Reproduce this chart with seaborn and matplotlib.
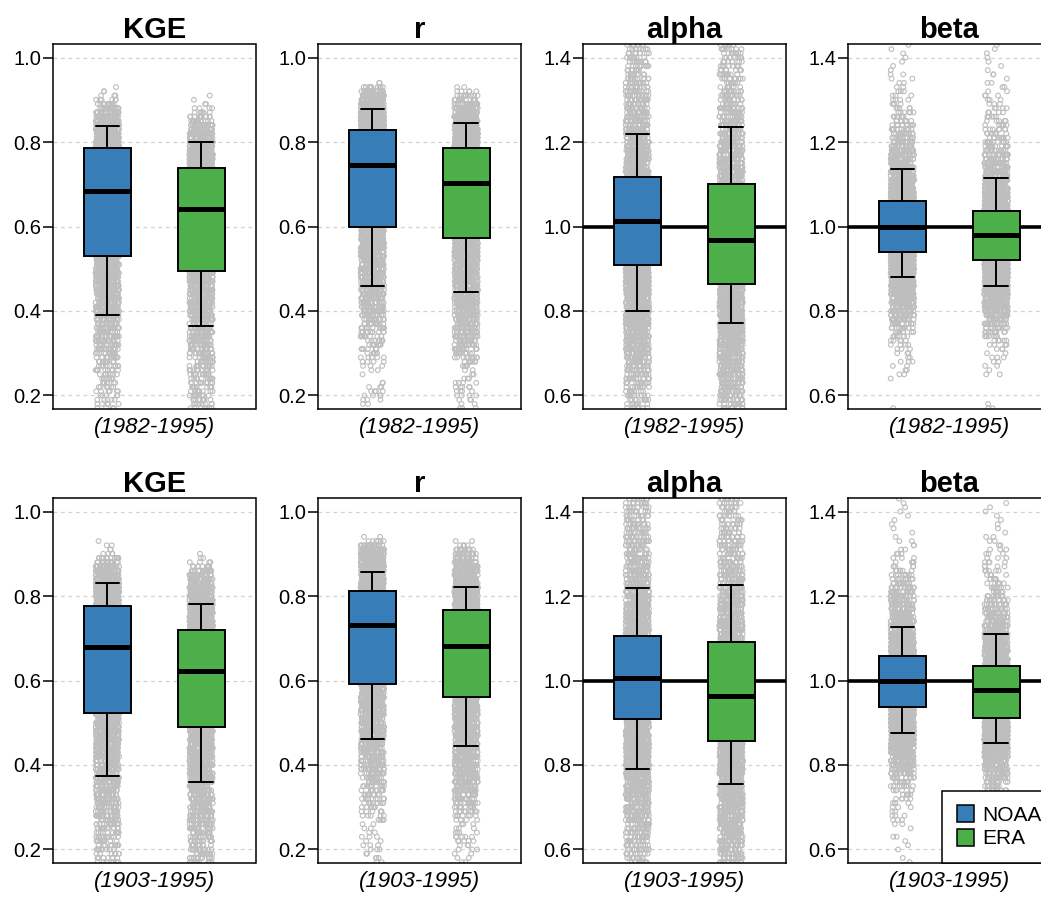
import numpy as np
import pandas as pd
import matplotlib
matplotlib.use("Agg")
import matplotlib.pyplot as plt
from matplotlib.patches import Patch
from matplotlib.ticker import FormatStrFormatter
import seaborn as sns

# ---------------- data ----------------
sources = ["NOAA", "ERA"]
metrics = ["KGE", "r", "alpha", "beta"]
periods = ["(1982-1995)", "(1903-1995)"]
box_colors = ["#377EB8", "#4DAF4A"]
point_gray = "#BEBEBE"

# five-number summaries: [lower whisker, Q1, median, Q3, upper whisker]
kge_noaa_1982_box = [0.391, 0.531, 0.684, 0.786, 0.838]
kge_era_1982_box = [0.364, 0.494, 0.642, 0.738, 0.799]
r_noaa_1982_box = [0.458, 0.600, 0.746, 0.828, 0.877]
r_era_1982_box = [0.444, 0.572, 0.702, 0.786, 0.846]
alpha_noaa_1982_box = [0.799, 0.908, 1.013, 1.116, 1.218]
alpha_era_1982_box = [0.771, 0.864, 0.968, 1.101, 1.236]
beta_noaa_1982_box = [0.881, 0.939, 0.999, 1.061, 1.135]
beta_era_1982_box = [0.860, 0.921, 0.980, 1.037, 1.115]

kge_noaa_1903_box = [0.375, 0.524, 0.679, 0.777, 0.830]
kge_era_1903_box = [0.359, 0.490, 0.622, 0.719, 0.781]
r_noaa_1903_box = [0.461, 0.591, 0.732, 0.812, 0.857]
r_era_1903_box = [0.446, 0.560, 0.681, 0.768, 0.822]
alpha_noaa_1903_box = [0.791, 0.908, 1.006, 1.105, 1.218]
alpha_era_1903_box = [0.756, 0.857, 0.964, 1.091, 1.225]
beta_noaa_1903_box = [0.876, 0.938, 0.999, 1.059, 1.127]
beta_era_1903_box = [0.851, 0.912, 0.977, 1.034, 1.110]

# point clouds: number of catchments in each 0.01-wide bin, first bin value given
kge_noaa_1982_start = 0.17
kge_noaa_1982_counts = [4, 5, 5, 5, 6, 6, 7, 8, 8, 9,
                        10, 11, 12, 13, 15, 16, 18, 19, 21, 23, 24, 26,
                        28, 30, 31, 32, 34, 35, 37, 38, 40, 40, 42, 43, 45, 45, 47,
                        48, 50, 50, 52, 53, 55, 57, 58, 60, 62, 63, 65, 67, 70, 72,
                        75, 77, 80, 82, 85, 87, 88, 90, 90, 90,
                        88, 83, 75, 65, 55,
                        48, 40, 32, 24, 17, 11, 6, 3, 2, 1]
kge_era_1982_start = 0.17
kge_era_1982_counts = [8, 8, 9, 9, 10, 10, 11, 12, 12, 13,
                       14, 15, 16, 17, 18, 19, 20, 21, 22, 24,
                       25, 26, 28, 29, 30, 32, 33, 35, 36, 38, 39, 41, 42,
                       44, 45, 47, 48, 50, 52, 53, 55, 57, 58, 60, 62, 64, 65, 66,
                       68, 70, 72, 74, 76, 78, 80, 82, 83,
                       82, 80, 75, 70, 62, 55,
                       48, 40, 33, 27, 21, 15, 10, 6, 4, 2, 1, 1]
r_noaa_1982_start = 0.18
r_noaa_1982_counts = [2, 3, 4, 4, 3, 2, 0, 1,
                      2, 3, 4, 5, 6, 7, 8, 9, 10, 12,
                      13, 14, 16, 18, 20, 22, 24, 26, 28, 30,
                      32, 33, 35, 36, 37, 38, 40, 41, 42, 43, 45, 46, 47, 48, 50,
                      52, 55, 57, 60, 62, 65, 67, 70, 72, 75, 77, 80, 82, 85,
                      87, 90, 92, 94, 95, 95, 95, 93,
                      90, 85, 78, 70, 62,
                      60, 55, 50, 40, 25, 10, 2]
r_era_1982_start = 0.17
r_era_1982_counts = [3, 2, 3, 4, 4, 5, 4, 3, 2, 2,
                     5, 7, 9, 11, 13, 15, 17, 19, 21, 23,
                     24, 26, 28, 29, 31, 32, 34, 35,
                     36, 37, 38, 40, 41, 42, 44, 45, 46, 47, 49, 50, 52,
                     54, 56, 58, 61, 63, 66, 68, 70, 72, 74, 76, 78, 80,
                     82, 84, 86, 87, 88, 89, 89, 88,
                     85, 81, 76, 71, 66, 61,
                     56, 50, 43, 35, 26, 18, 10, 5, 2]
alpha_noaa_1982_start = 0.57
alpha_noaa_1982_counts = [8, 8, 10, 10, 10, 12, 12, 15, 15, 18,
                          18, 20, 20, 22, 25, 25, 28, 30, 32, 35, 38, 40, 42,
                          45, 48, 50, 52, 55, 58, 60, 62, 65, 68, 70,
                          72, 75, 78, 78, 80, 80, 80, 80, 80, 78, 78,
                          75, 72, 70, 68, 65, 62, 60, 58, 55, 52,
                          50, 48, 45, 42, 40, 38, 35, 32, 30, 28, 25,
                          25, 22, 22, 20, 20, 18, 18, 15, 15, 15, 12, 12, 12, 10, 10,
                          10, 10, 8, 8, 8, 8]
alpha_era_1982_start = 0.57
alpha_era_1982_counts = [12, 12, 15, 15, 18, 18, 20, 20, 22, 22,
                         25, 28, 30, 32, 35, 38, 40, 42, 45, 48, 50,
                         52, 55, 58, 60, 62, 65, 68, 68, 70,
                         70, 72, 72, 72, 72, 72, 72, 70, 70, 68, 68,
                         65, 62, 60, 58, 55, 52, 50, 48, 45, 42, 40, 38, 35,
                         32, 32, 30, 30, 28, 28, 25, 25, 22, 22, 20, 20, 18, 18,
                         18, 15, 15, 15, 12, 12, 12, 12, 10, 10, 10, 10, 8, 8, 8, 8,
                         8, 8, 8]
beta_noaa_1982_start = 0.57
beta_noaa_1982_counts = [1, 0, 0, 0, 0, 0, 0, 1, 2, 2,
                         2, 3, 2, 3, 3, 4, 5, 6, 8, 10,
                         14, 18, 22, 26, 30, 36, 42, 48, 56, 64, 72,
                         80, 88, 96, 104, 110, 116, 120, 124, 126, 128, 128, 128,
                         126, 124, 120, 116, 110, 104, 96,
                         88, 80, 72, 64, 56, 50, 44,
                         38, 34, 30, 26, 24, 20, 18, 16, 14, 12, 10, 8, 8, 6,
                         5, 4, 4, 3, 3, 2, 2, 2, 2, 1, 1, 1, 1, 1, 1, 1]
beta_era_1982_start = 0.57
beta_era_1982_counts = [2, 1, 0, 0, 0, 0, 0, 0, 2, 1,
                        2, 2, 3, 2, 3, 4, 5, 7, 9, 12,
                        16, 20, 26, 32, 38, 46, 54, 62, 72, 82,
                        90, 98, 106, 112, 118, 122, 126, 128, 128, 128, 126,
                        124, 120, 114, 108, 102, 94, 86,
                        78, 70, 62, 55, 48, 42, 37, 33,
                        29, 25, 22, 19, 17, 15, 13, 11, 9, 8, 7, 6, 5, 5,
                        4, 4, 3, 3, 3, 2, 2, 2, 1, 2, 1, 1, 1, 1, 1, 1, 1]

kge_noaa_1903_start = 0.17
kge_noaa_1903_counts = [7, 8, 8, 10, 10, 10, 12, 12, 12, 15,
                        15, 18, 18, 20, 20, 22, 22, 25, 25, 28, 28,
                        30, 30, 32, 32, 35, 35, 38, 38, 40, 40, 42, 42, 45, 45, 48,
                        48, 50, 50, 52, 55, 55, 58, 60, 60, 62, 65, 65, 68, 70, 72,
                        75, 78, 80, 82, 85, 88, 88, 90, 90, 90,
                        88, 82, 78, 70, 62, 55,
                        50, 45, 40, 32, 22, 12, 4, 2, 2, 1]
kge_era_1903_start = 0.17
kge_era_1903_counts = [10, 10, 12, 12, 12, 15, 15, 15, 18, 18,
                       18, 20, 20, 22, 22, 25, 25, 28, 28,
                       30, 30, 32, 32, 35, 35, 38, 38, 40, 40, 42, 42, 45, 45,
                       48, 50, 50, 52, 55, 58, 58, 60, 62, 65, 68, 68, 70,
                       72, 75, 78, 80, 82, 82, 85, 85, 85,
                       85, 82, 78, 72, 68, 62, 58,
                       52, 48, 42, 38, 32, 28, 20, 15, 10, 4, 2, 1]
r_noaa_1903_start = 0.17
r_noaa_1903_counts = [2, 3, 2, 3, 3, 2, 3, 2, 2, 2,
                      4, 5, 6, 7, 8, 9, 10, 11, 12, 13,
                      14, 16, 18, 20, 22, 25, 28, 30, 32, 33,
                      35, 36, 37, 38, 40, 41, 42, 43, 45, 46, 47, 48, 50,
                      52, 55, 57, 60, 62, 65, 67, 70, 72, 75, 77, 80, 82, 85,
                      87, 90, 92, 94, 95, 95, 95, 93,
                      90, 85, 80, 75, 70,
                      65, 60, 55, 48, 35, 20, 6, 2]
r_era_1903_start = 0.17
r_era_1903_counts = [2, 2, 2, 3, 3, 5, 5, 4, 3, 3,
                     5, 7, 9, 11, 13, 15, 17, 19, 20, 22,
                     23, 24, 25, 27, 28, 30, 32, 33, 35,
                     36, 37, 38, 40, 41, 42, 43, 45, 46, 47, 48,
                     50, 52, 55, 57, 60, 62, 65, 67, 70, 72, 75, 78,
                     80, 82, 85, 87, 88, 89, 89, 89, 88,
                     85, 80, 75, 70, 65, 60,
                     55, 50, 45, 40, 32, 25, 18, 10, 4, 2]
alpha_noaa_1903_start = 0.57
alpha_noaa_1903_counts = [10, 10, 10, 12, 12, 12, 15, 15, 18, 18,
                          20, 20, 22, 22, 25, 28, 30, 30, 32, 35, 38, 40, 42,
                          45, 48, 50, 52, 55, 58, 60, 62, 65, 68, 70,
                          72, 75, 78, 78, 80, 80, 80, 80, 80, 78,
                          75, 72, 70, 68, 65, 62, 60, 58, 55, 52,
                          50, 48, 45, 42, 40, 38, 35, 32, 30, 30, 28, 25,
                          25, 22, 22, 20, 20, 18, 18, 18, 15, 15, 15, 12, 12, 12, 12,
                          10, 10, 10, 10, 10, 8]
alpha_era_1903_start = 0.57
alpha_era_1903_counts = [15, 15, 18, 18, 20, 20, 22, 22, 25, 25,
                         28, 30, 32, 35, 38, 40, 42, 45, 48, 50,
                         52, 55, 58, 60, 62, 65, 65, 68, 68, 70,
                         70, 72, 72, 72, 72, 72, 72, 70, 70, 68,
                         68, 65, 62, 60, 58, 55, 52, 50, 48, 45, 42, 40, 38,
                         35, 32, 32, 30, 30, 28, 28, 25, 25, 22, 22, 20, 20, 18,
                         18, 18, 15, 15, 15, 12, 12, 12, 12, 10, 10, 10, 10, 10, 8, 8,
                         8, 8, 8, 8]
beta_noaa_1903_start = 0.57
beta_noaa_1903_counts = [1, 1, 0, 1, 1, 1, 2, 0, 1, 2,
                         3, 3, 2, 3, 4, 5, 5, 6, 8, 10,
                         14, 18, 22, 26, 30, 36, 42, 48, 56, 64, 72,
                         80, 88, 96, 104, 110, 116, 120, 124, 126, 128, 128, 128,
                         126, 122, 118, 112, 106, 100, 92,
                         84, 76, 68, 60, 54, 48, 42,
                         38, 34, 30, 26, 22, 20, 18, 16, 14, 12, 10, 8, 6, 5,
                         4, 3, 3, 2, 2, 2, 1, 1, 1, 1, 1, 1, 1, 1, 1, 1]
beta_era_1903_start = 0.57
beta_era_1903_counts = [1, 1, 1, 1, 2, 1, 1, 2, 2, 2,
                        3, 3, 4, 4, 6, 6, 8, 10, 12, 14,
                        18, 22, 28, 34, 40, 48, 56, 64, 74, 82,
                        90, 98, 106, 112, 118, 122, 126, 128, 128, 128, 126,
                        124, 120, 114, 108, 102, 94, 86,
                        78, 70, 62, 55, 48, 42, 37, 33,
                        29, 25, 22, 19, 17, 15, 13, 11, 9, 8, 7, 6, 5, 5,
                        4, 4, 3, 3, 3, 2, 2, 2, 1, 1, 1, 1, 1, 1, 1, 1, 0]

panels = {
    (0, "KGE"): (kge_noaa_1982_box, kge_era_1982_box,
                 (kge_noaa_1982_start, kge_noaa_1982_counts), (kge_era_1982_start, kge_era_1982_counts)),
    (0, "r"): (r_noaa_1982_box, r_era_1982_box,
               (r_noaa_1982_start, r_noaa_1982_counts), (r_era_1982_start, r_era_1982_counts)),
    (0, "alpha"): (alpha_noaa_1982_box, alpha_era_1982_box,
                   (alpha_noaa_1982_start, alpha_noaa_1982_counts), (alpha_era_1982_start, alpha_era_1982_counts)),
    (0, "beta"): (beta_noaa_1982_box, beta_era_1982_box,
                  (beta_noaa_1982_start, beta_noaa_1982_counts), (beta_era_1982_start, beta_era_1982_counts)),
    (1, "KGE"): (kge_noaa_1903_box, kge_era_1903_box,
                 (kge_noaa_1903_start, kge_noaa_1903_counts), (kge_era_1903_start, kge_era_1903_counts)),
    (1, "r"): (r_noaa_1903_box, r_era_1903_box,
               (r_noaa_1903_start, r_noaa_1903_counts), (r_era_1903_start, r_era_1903_counts)),
    (1, "alpha"): (alpha_noaa_1903_box, alpha_era_1903_box,
                   (alpha_noaa_1903_start, alpha_noaa_1903_counts), (alpha_era_1903_start, alpha_era_1903_counts)),
    (1, "beta"): (beta_noaa_1903_box, beta_era_1903_box,
                  (beta_noaa_1903_start, beta_noaa_1903_counts), (beta_era_1903_start, beta_era_1903_counts)),
}

y_ticks = {"KGE": [0.2, 0.4, 0.6, 0.8, 1.0], "r": [0.2, 0.4, 0.6, 0.8, 1.0],
           "alpha": [0.6, 0.8, 1.0, 1.2, 1.4], "beta": [0.6, 0.8, 1.0, 1.2, 1.4]}


def expand(start_counts):
    start, counts = start_counts
    vals = np.round(start + 0.01 * np.arange(len(counts)), 2)
    return np.repeat(vals, counts)


# ---------------- style ----------------
sns.set_theme(style="white")
plt.rcParams["font.family"] = ["Liberation Sans", "DejaVu Sans"]
plt.rcParams["text.color"] = "black"
plt.rcParams["axes.labelcolor"] = "black"
plt.rcParams["axes.titlecolor"] = "black"
plt.rcParams["ytick.color"] = "black"
plt.rcParams["xtick.color"] = "black"
plt.rcParams["axes.edgecolor"] = "black"
np.random.seed(7)

W, H = 1041, 899
fig = plt.figure(figsize=(W / 100, H / 100), dpi=100)

col_left = [53, 318, 583, 848]
panel_w = 202.5
row_top = [44, 498]
panel_h = 365

for row in range(2):
    for ci, metric in enumerate(metrics):
        left = col_left[ci] / W
        bottom = 1 - (row_top[row] + panel_h) / H
        ax = fig.add_axes([left, bottom, panel_w / W, panel_h / H])
        box_n, box_e, pts_n, pts_e = panels[(row, metric)]
        vn, ve = expand(pts_n), expand(pts_e)
        pdf = pd.DataFrame({"source": np.repeat(sources, [len(vn), len(ve)]),
                            "value": np.concatenate([vn, ve])})
        sns.stripplot(data=pdf, x="source", y="value", order=sources, ax=ax,
                      jitter=0.125, size=3.4, color=point_gray, facecolor="none",
                      edgecolor=point_gray, linewidth=0.8, zorder=1)
        ticks = y_ticks[metric]
        if metric in ("alpha", "beta"):
            ax.axhline(1.0, color="black", lw=2.6, zorder=1.5)
        bdf = pd.DataFrame({"source": np.repeat(sources, 5),
                            "value": list(box_n) + list(box_e)})
        sns.boxplot(data=bdf, x="source", y="value", order=sources, hue="source",
                    hue_order=sources, palette=box_colors, dodge=False, legend=False,
                    width=0.5, whis=(0, 100), showfliers=False, linecolor="black",
                    linewidth=1.4, medianprops={"linewidth": 3.6}, saturation=1,
                    ax=ax, zorder=2)
        ext = 0.04 * (ticks[-1] - ticks[0])
        ax.set_ylim(ticks[0] - ext, ticks[-1] + ext)
        ax.set_xlim(-0.58, 1.58)
        ax.set_yticks(ticks)
        ax.yaxis.set_major_formatter(FormatStrFormatter("%.1f"))
        ax.set_xticks([])
        ax.set_ylabel("")
        ax.set_xlabel(periods[row], fontsize=16, style="italic", labelpad=6)
        ax.set_title(metric, fontsize=21, fontweight="bold", pad=4)
        ax.yaxis.grid(True, color="#D3D3D3", linestyle=(0, (3, 3)), linewidth=0.9)
        ax.xaxis.grid(False)
        ax.set_axisbelow(True)
        for sp in ax.spines.values():
            sp.set_visible(True)
            sp.set_color("black")
            sp.set_linewidth(1.1)
        ax.tick_params(axis="y", direction="out", length=7, width=1.1,
                       labelsize=14.5, pad=1.5, left=True, colors="black")
        if row == 1 and metric == "beta":
            handles = [Patch(facecolor=c, edgecolor="black", linewidth=1.1) for c in box_colors]
            leg = ax.legend(handles, sources, loc="lower left", bbox_to_anchor=(0.464, 0.0),
                            borderaxespad=0, frameon=True, fancybox=False,
                            edgecolor="black", framealpha=1, fontsize=15,
                            handlelength=0.85, handleheight=0.85, handletextpad=0.4,
                            borderpad=0.7, labelspacing=0.2)
            leg.get_frame().set_linewidth(1.1)
            leg.set_zorder(10)

fig.savefig("out.png", dpi=100)
